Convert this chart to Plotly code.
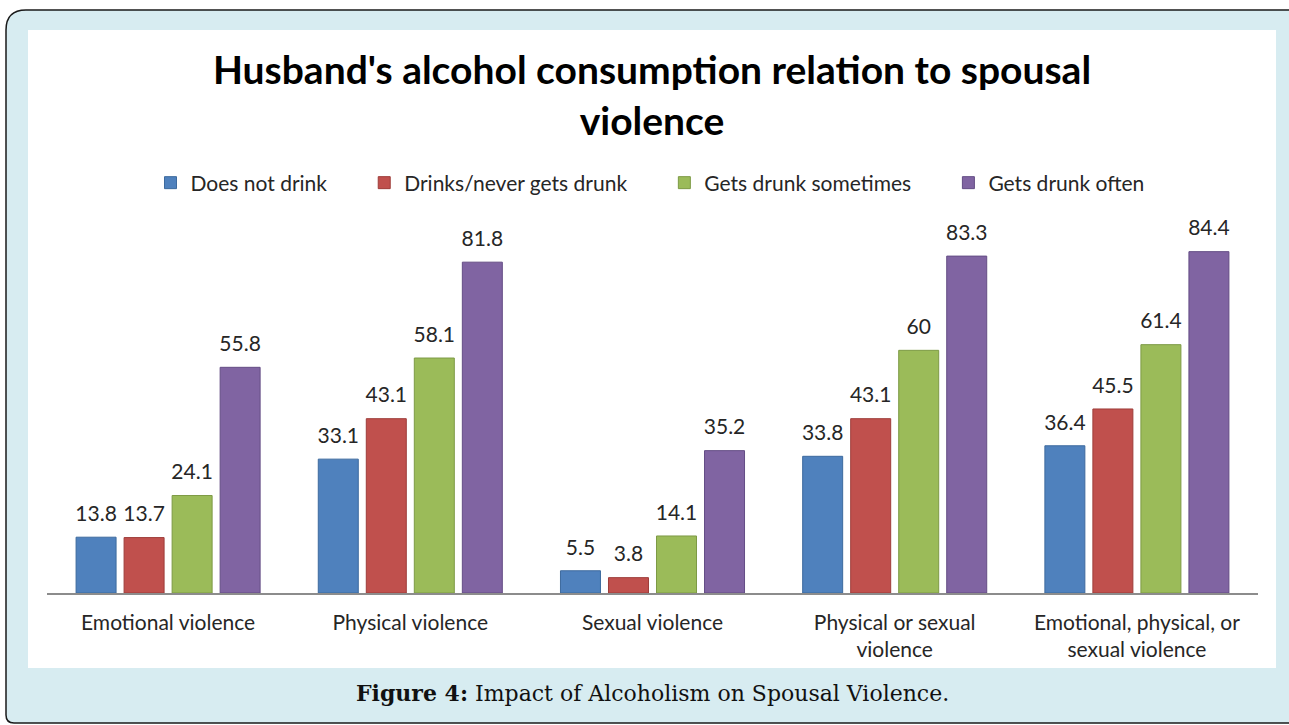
import plotly.graph_objects as go

categories = ["Emotional violence", "Physical violence", "Sexual violence",
              "Physical or sexual<br>violence", "Emotional, physical, or<br>sexual violence"]
series_names = ["Does not drink", "Drinks/never gets drunk", "Gets drunk sometimes", "Gets drunk often"]
does_not_drink = [13.8, 33.1, 5.5, 33.8, 36.4]
never_drunk = [13.7, 43.1, 3.8, 43.1, 45.5]
drunk_sometimes = [24.1, 58.1, 14.1, 60, 61.4]
drunk_often = [55.8, 81.8, 35.2, 83.3, 84.4]
labels_text = [["13.8", "33.1", "5.5", "33.8", "36.4"],
               ["13.7", "43.1", "3.8", "43.1", "45.5"],
               ["24.1", "58.1", "14.1", "60", "61.4"],
               ["55.8", "81.8", "35.2", "83.3", "84.4"]]

colors = ["#4F81BD", "#C0504D", "#9BBB59", "#8064A2"]
outlines = ["#3d6a9e", "#9e3d3a", "#7d9a45", "#644d85"]
values = [does_not_drink, never_drunk, drunk_sometimes, drunk_often]

W, H = 1289, 725
FONT = "Lato"
NB = "\u00a0" * 6

fig = go.Figure()
for i, (name, vals, c, oc) in enumerate(zip(series_names, values, colors, outlines)):
    fig.add_trace(go.Bar(
        x=categories, y=vals, name=name + (NB if i < 3 else ""),
        marker=dict(color=c, line=dict(color=oc, width=1)),
        hoverinfo="skip",
    ))
# data labels, positioned over the grouped bars by the library
for vals, txt in zip(values, labels_text):
    fig.add_trace(go.Scatter(
        x=categories, y=vals, text=txt, mode="markers+text",
        textposition="top center", cliponaxis=False, showlegend=False,
        marker=dict(size=16, opacity=0), hoverinfo="skip",
        textfont=dict(family=FONT, size=21, color="#262626"),
    ))

def px(x):
    return x / W

def py(y):
    return 1 - y / H

shapes = [
    dict(type="path", xref="paper", yref="paper", layer="below",
         path=f"M {px(6)},{py(30)} Q {px(6)},{py(10)} {px(26)},{py(10)} L {px(1300)},{py(10)} "
              f"L {px(1300)},{py(723)} L {px(14)},{py(723)} Q {px(6)},{py(723)} {px(6)},{py(715)} Z",
         fillcolor="#D7ECF1", line=dict(color="#1a1a1a", width=1.5)),
    dict(type="rect", xref="paper", yref="paper", layer="below",
         x0=px(28), x1=px(1276), y0=py(668), y1=py(30),
         fillcolor="white", line=dict(width=0)),
]

fig.update_layout(
    width=W, height=H,
    margin=dict(l=0, r=0, t=0, b=0),
    paper_bgcolor="white",
    plot_bgcolor="#E6E6E6",
    barmode="group",
    bargap=0.207,
    bargroupgap=0.167,
    scattermode="group",
    scattergap=0.207,
    showlegend=True,
    title=dict(text="<b>Husband's alcohol consumption relation to spousal<br>violence</b>",
               x=652 / W, xanchor="center", y=py(84), yanchor="middle",
               font=dict(family=FONT, size=39, color="#000000")),
    legend=dict(orientation="h", x=650 / W, xanchor="center", y=py(183), yanchor="middle",
                font=dict(family=FONT, size=21, color="#262626"),
                bgcolor="rgba(0,0,0,0)", itemclick=False, traceorder="normal"),
    xaxis=dict(domain=[px(47), px(1258)], showline=True, linecolor="#8C8C8C", linewidth=1.5,
               ticks="", ticklabelstandoff=10,
               tickfont=dict(family=FONT, size=21, color="#262626"),
               showgrid=False, zeroline=False, fixedrange=True),
    yaxis=dict(domain=[py(593), py(229)], range=[0, 90], visible=False,
               showgrid=False, zeroline=False, fixedrange=True),
    shapes=shapes,
    annotations=[
        dict(text="<b>Figure 4:</b> Impact of Alcoholism on Spousal Violence.",
             xref="paper", yref="paper", x=652 / W, y=py(693), xanchor="center", yanchor="middle",
             showarrow=False, font=dict(family="DejaVu Serif", size=22, color="#111111")),
    ],
)

fig.write_html("out.html", post_script="document.body.style.margin='0px';",
               config={"displayModeBar": False})
